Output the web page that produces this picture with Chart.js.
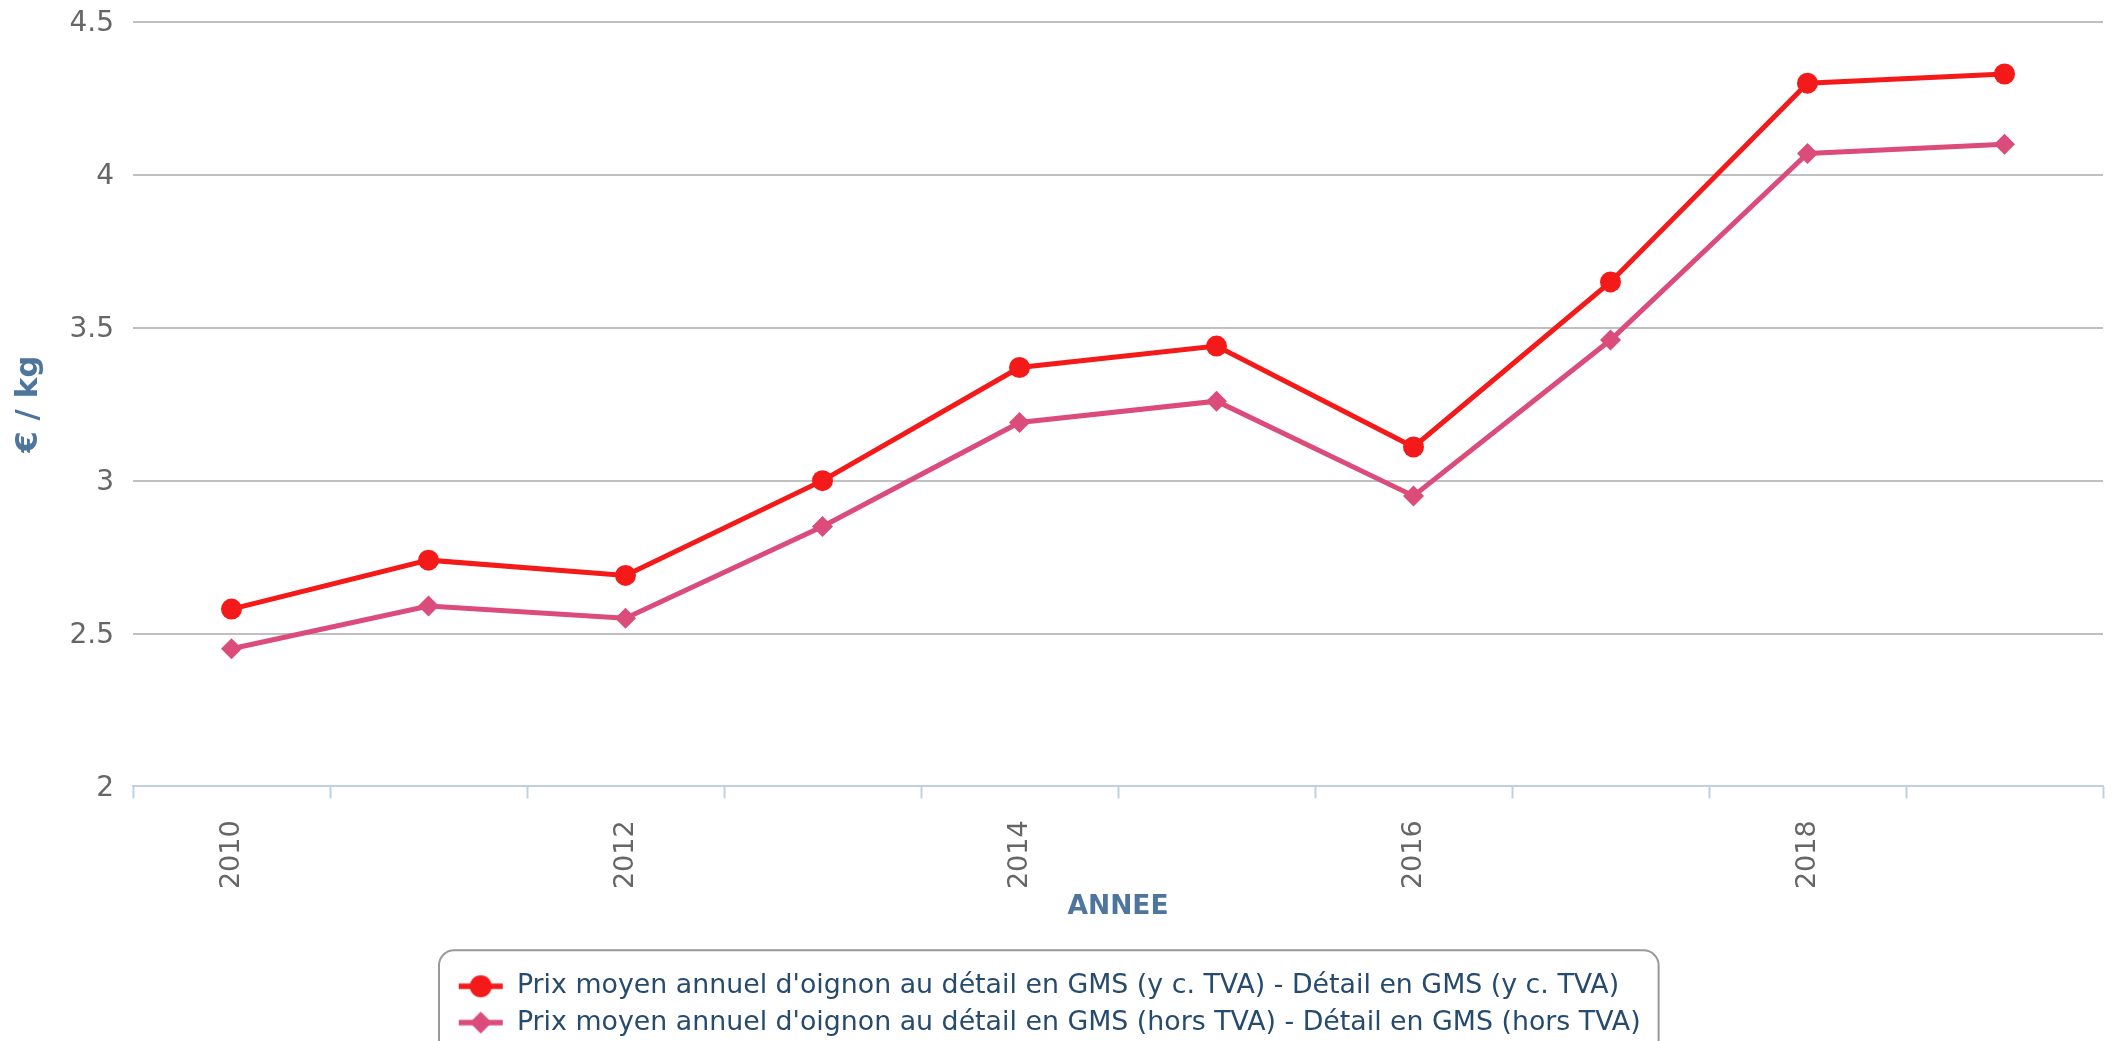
<!DOCTYPE html>
<html>
<head>
<meta charset="utf-8">
<script src="https://cdn.jsdelivr.net/npm/chart.js@4.4.1/dist/chart.umd.min.js"></script>
<style>
  html, body { margin: 0; padding: 0; background: #ffffff; overflow: hidden; }
  #wrap { position: relative; width: 2125px; height: 1041px; }
</style>
</head>
<body>
<div id="wrap"><canvas id="c"></canvas></div>
<script>
// ---- data ----
const years = ["2010", "2011", "2012", "2013", "2014", "2015", "2016", "2017", "2018", "2019"];
const prixTTC = [2.58, 2.74, 2.69, 3.00, 3.37, 3.44, 3.11, 3.65, 4.30, 4.33];
const prixHT  = [2.45, 2.59, 2.55, 2.85, 3.19, 3.26, 2.95, 3.46, 4.07, 4.10];
const seriesNames = [
  "Prix moyen annuel d'oignon au détail en GMS (y c. TVA) - Détail en GMS (y c. TVA)",
  "Prix moyen annuel d'oignon au détail en GMS (hors TVA) - Détail en GMS (hors TVA)"
];
const yTicks = [2, 2.5, 3, 3.5, 4, 4.5];
const yTickLabels = ["2", "2.5", "3", "3.5", "4", "4.5"];
const xTitle = "ANNEE";
const yTitle = "€ / kg";

const RED = '#f41a1a';
const PINK = '#db4c7a';
const FONT = 'DejaVu Sans';

function makeIcon(color, shape) {
  const c = document.createElement('canvas');
  c.width = 46; c.height = 24;
  const g = c.getContext('2d');
  g.strokeStyle = color; g.fillStyle = color; g.lineWidth = 5.5;
  g.beginPath(); g.moveTo(1, 12); g.lineTo(45, 12); g.stroke();
  g.beginPath();
  if (shape === 'circle') {
    g.arc(23, 12, 11, 0, Math.PI * 2);
  } else {
    g.moveTo(23, 1); g.lineTo(34, 12); g.lineTo(23, 23); g.lineTo(12, 12); g.closePath();
  }
  g.fill();
  return c;
}
const legendIcons = [makeIcon(RED, 'circle'), makeIcon(PINK, 'diamond')];

Chart.defaults.font.family = FONT;

const legendBoxPlugin = {
  id: 'legendBox',
  afterLayout(chart) {
    const lg = chart.legend;
    if (lg) {
      lg.left = 448.5;
      lg.top += 5;
      lg.bottom += 5;
    }
  },
  afterDraw(chart) {
    const lg = chart.legend;
    if (!lg) return;
    const o = lg.options.labels;
    const pad = o.padding;
    const fs = o.font.size;
    const ctx = chart.ctx;
    ctx.save();
    ctx.font = fs + 'px ' + FONT;
    let maxW = 0;
    chart.data.datasets.forEach(ds => { maxW = Math.max(maxW, ctx.measureText(ds.label).width); });
    const startX = lg.left + pad;
    const x0 = startX - 19;
    const x1 = startX + o.pointStyleWidth + fs / 2 + maxW + 18;
    const row1 = lg.top + pad + fs / 2;
    const y0 = row1 - 36;
    const y1 = row1 + (fs + pad) * (chart.data.datasets.length - 1) + 36;
    const r = 15;
    ctx.strokeStyle = '#999999';
    ctx.lineWidth = 2;
    ctx.beginPath();
    ctx.moveTo(x0 + r, y0);
    ctx.lineTo(x1 - r, y0);
    ctx.arcTo(x1, y0, x1, y0 + r, r);
    ctx.lineTo(x1, y1 - r);
    ctx.arcTo(x1, y1, x1 - r, y1, r);
    ctx.lineTo(x0 + r, y1);
    ctx.arcTo(x0, y1, x0, y1 - r, r);
    ctx.lineTo(x0, y0 + r);
    ctx.arcTo(x0, y0, x0 + r, y0, r);
    ctx.closePath();
    ctx.stroke();
    ctx.restore();
  }
};

new Chart(document.getElementById('c'), {
  type: 'line',
  data: {
    labels: years,
    datasets: [
      {
        label: seriesNames[0],
        data: prixTTC,
        borderColor: RED,
        backgroundColor: RED,
        borderWidth: 5,
        tension: 0,
        pointStyle: 'circle',
        pointRadius: 10.5,
        pointBorderWidth: 0,
        pointBackgroundColor: RED
      },
      {
        label: seriesNames[1],
        data: prixHT,
        borderColor: PINK,
        backgroundColor: PINK,
        borderWidth: 5,
        tension: 0,
        pointStyle: 'rectRot',
        pointRadius: 10.5,
        pointBorderWidth: 0,
        pointBackgroundColor: PINK
      }
    ]
  },
  options: {
    responsive: true,
    maintainAspectRatio: false,
    animation: false,
    layout: { padding: { top: 22, right: 22, left: 0, bottom: 0 } },
    plugins: {
      tooltip: { enabled: false },
      legend: {
        position: 'bottom',
        align: 'start',
        labels: {
          usePointStyle: true,
          pointStyleWidth: 45.5,
          padding: 9.5,
          color: '#274b6d',
          font: { size: 26.8, family: FONT },
          generateLabels: (chart) => chart.data.datasets.map((ds, i) => ({
            text: ds.label,
            pointStyle: legendIcons[i],
            fillStyle: ds.borderColor,
            strokeStyle: ds.borderColor,
            lineWidth: 0,
            hidden: false,
            datasetIndex: i,
            fontColor: '#274b6d'
          }))
        }
      }
    },
    scales: {
      x: {
        type: 'category',
        offset: true,
        afterFit: (s) => { s.height = 172; },
        grid: {
          offset: true,
          drawOnChartArea: false,
          drawTicks: true,
          tickLength: 12,
          tickColor: '#c0d0e0',
          tickWidth: 2
        },
        border: { display: true, color: '#c0d0e0', width: 2 },
        ticks: {
          autoSkip: false,
          minRotation: 90,
          maxRotation: 90,
          padding: 22,
          color: '#666666',
          font: { size: 27, family: FONT },
          callback: function (val, idx) { return (parseInt(years[idx], 10) % 2 === 0) ? years[idx] : ''; }
        },
        title: {
          display: true,
          text: xTitle,
          color: '#4d759e',
          font: { size: 26.5, weight: 'bold', family: FONT },
          padding: { top: 0, bottom: 35 }
        }
      },
      y: {
        min: 2,
        max: 4.5,
        afterFit: (s) => { s.width = 133; },
        afterBuildTicks: (s) => { s.ticks = yTicks.map(v => ({ value: v })); },
        grid: {
          drawTicks: true,
          tickLength: 19,
          tickColor: 'rgba(0,0,0,0)',
          lineWidth: 2,
          color: (c) => (c.tick && c.tick.value === 2) ? 'rgba(0,0,0,0)' : '#c0c0c0'
        },
        border: { display: false },
        ticks: {
          padding: 0,
          labelOffset: 2,
          color: '#666666',
          font: { size: 28, family: FONT },
          callback: (v) => { const i = yTicks.indexOf(v); return i >= 0 ? yTickLabels[i] : String(v); }
        },
        title: {
          display: true,
          text: yTitle,
          color: '#4d759e',
          font: { size: 31, weight: 'bold', family: FONT },
          padding: { top: 10, bottom: 0 }
        }
      }
    }
  },
  plugins: [legendBoxPlugin]
});
</script>
</body>
</html>
